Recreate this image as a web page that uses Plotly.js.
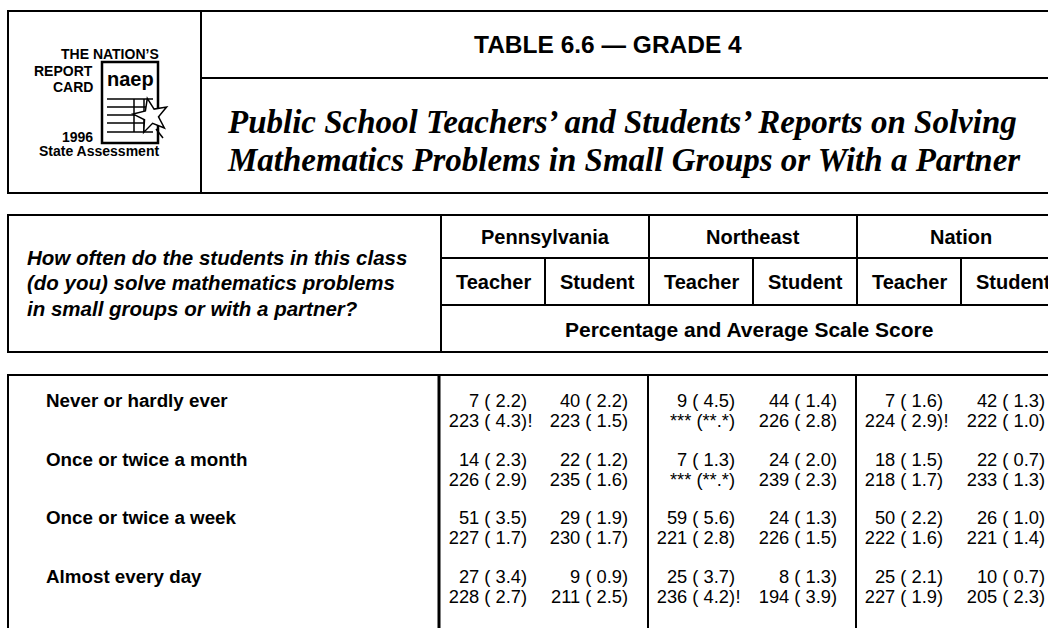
<!DOCTYPE html>
<html>
<head>
<meta charset="utf-8">
<script src="https://cdn.plot.ly/plotly-3.0.1.min.js"></script>
<style>html,body{margin:0;padding:0;background:#fff;}#chart{width:1048px;height:628px;}</style>
</head>
<body>
<div id="chart"></div>
<script>
// ---------------- DATA ----------------
const categories = ['Never or hardly ever', 'Once or twice a month', 'Once or twice a week', 'Almost every day'];
const regions = ['Pennsylvania', 'Northeast', 'Nation'];
const respondents = ['Teacher', 'Student'];
const question = ['How often do the students in this class', '(do you) solve mathematics problems', 'in small groups or with a partner?'];
const measureLabel = 'Percentage and Average Scale Score';
const tableTitle = 'TABLE 6.6 \u2014 GRADE 4';
const subtitleLines = ['Public School Teachers\u2019 and Students\u2019 Reports on Solving', 'Mathematics Problems in Small Groups or With a Partner'];

// percentage ( standard error ) per category
const paTeacherPct   = ['7 ( 2.2)', '14 ( 2.3)', '51 ( 3.5)', '27 ( 3.4)'];
const paStudentPct   = ['40 ( 2.2)', '22 ( 1.2)', '29 ( 1.9)', '9 ( 0.9)'];
const neTeacherPct   = ['9 ( 4.5)', '7 ( 1.3)', '59 ( 5.6)', '25 ( 3.7)'];
const neStudentPct   = ['44 ( 1.4)', '24 ( 2.0)', '24 ( 1.3)', '8 ( 1.3)'];
const natTeacherPct  = ['7 ( 1.6)', '18 ( 1.5)', '50 ( 2.2)', '25 ( 2.1)'];
const natStudentPct  = ['42 ( 1.3)', '22 ( 0.7)', '26 ( 1.0)', '10 ( 0.7)'];
// average scale score ( standard error ) per category
const paTeacherScore  = ['223 ( 4.3)!', '226 ( 2.9)', '227 ( 1.7)', '228 ( 2.7)'];
const paStudentScore  = ['223 ( 1.5)', '235 ( 1.6)', '230 ( 1.7)', '211 ( 2.5)'];
const neTeacherScore  = ['*** (**.*)', '*** (**.*)', '221 ( 2.8)', '236 ( 4.2)!'];
const neStudentScore  = ['226 ( 2.8)', '239 ( 2.3)', '226 ( 1.5)', '194 ( 3.9)'];
const natTeacherScore = ['224 ( 2.9)!', '218 ( 1.7)', '222 ( 1.6)', '227 ( 1.9)'];
const natStudentScore = ['222 ( 1.0)', '233 ( 1.3)', '221 ( 1.4)', '205 ( 2.3)'];

// ---------------- LAYOUT CONSTANTS ----------------
const SANS = 'Liberation Sans, Arial, Helvetica, sans-serif';
const SERIF = 'Liberation Serif, Times New Roman, serif';
const RIGHT = 1070;
const colRight = [527, 628, 735, 837, 943, 1045];
const rowY1 = [402, 461, 519, 578];
const rowGap = 20.5;

const pctCols = [paTeacherPct, paStudentPct, neTeacherPct, neStudentPct, natTeacherPct, natStudentPct];
const scoreCols = [paTeacherScore, paStudentScore, neTeacherScore, neStudentScore, natTeacherScore, natStudentScore];

const traces = [];
const valFont = {family: SANS, size: 18.3, color: '#000'};
pctCols.forEach((col, c) => {
  traces.push({type: 'scatter', mode: 'text', x: col.map(() => colRight[c]), y: rowY1,
    text: col, textposition: 'middle left', textfont: valFont, hoverinfo: 'skip', cliponaxis: false});
});
scoreCols.forEach((col, c) => {
  const base = col.map(s => s.replace(/!$/, ''));
  traces.push({type: 'scatter', mode: 'text', x: col.map(() => colRight[c]), y: rowY1.map(v => v + rowGap),
    text: base, textposition: 'middle left', textfont: valFont, hoverinfo: 'skip', cliponaxis: false});
  const fx = [], fy = [], ft = [];
  col.forEach((s, r) => { if (/!$/.test(s)) { fx.push(colRight[c] + 0.5); fy.push(rowY1[r] + rowGap); ft.push('!'); } });
  if (fx.length) traces.push({type: 'scatter', mode: 'text', x: fx, y: fy, text: ft,
    textposition: 'middle right', textfont: valFont, hoverinfo: 'skip', cliponaxis: false});
});
// row labels
traces.push({type: 'scatter', mode: 'text', x: categories.map(() => 46), y: rowY1,
  text: categories.map(s => '<b>' + s + '</b>'), textposition: 'middle right',
  textfont: {family: SANS, size: 18.8, color: '#000'}, hoverinfo: 'skip', cliponaxis: false});

// ---------------- SHAPES ----------------
const shapes = [];
function ln(x0, y0, x1, y1, w) {
  shapes.push({type: 'line', xref: 'x', yref: 'y', x0, y0, x1, y1, line: {color: '#000', width: w || 2}});
}
// top box
ln(7, 11, RIGHT, 11); ln(7, 193, RIGHT, 193); ln(8, 11, 8, 193); ln(201, 11, 201, 193); ln(201, 78, RIGHT, 78);
// header table
ln(7, 215, RIGHT, 215); ln(7, 352, RIGHT, 352); ln(8, 215, 8, 352); ln(441, 215, 441, 352);
ln(441, 258, RIGHT, 258); ln(441, 305, RIGHT, 305);
[649, 857].forEach(x => ln(x, 215, x, 305));
[545, 753, 961].forEach(x => ln(x, 258, x, 305));
// body
ln(7, 375, RIGHT, 375); ln(8, 375, 8, 640); ln(439, 375, 439, 640, 3); ln(648, 375, 648, 640); ln(856, 375, 856, 640);

// logo: report card
shapes.push({type: 'rect', xref: 'x', yref: 'y', x0: 102, y0: 62, x1: 158, y1: 143, line: {color: '#000', width: 2.5}, fillcolor: '#fff'});
[99, 107, 115, 123, 132].forEach(y => ln(107, y, 153, y, 1.5));
[134, 144].forEach(x => ln(x, 99, x, 132, 1.5));
// star
(function () {
  const cx = 151, cy = 116, R = 18, r = 7.5, rot = -12 * Math.PI / 180;
  let p = '';
  for (let i = 0; i < 10; i++) {
    const a = rot - Math.PI / 2 + i * Math.PI / 5;
    const rr = i % 2 === 0 ? R : r;
    p += (i === 0 ? 'M' : 'L') + (cx + rr * Math.cos(a)).toFixed(1) + ',' + (cy + rr * Math.sin(a)).toFixed(1);
  }
  p += 'Z';
  shapes.push({type: 'path', xref: 'x', yref: 'y', path: p, fillcolor: '#fff', line: {color: '#000', width: 1.5}});
})();
ln(156, 129, 163, 138, 1.5);

// ---------------- ANNOTATIONS ----------------
const ann = [];
function tx(x, y, text, size, opts) {
  ann.push(Object.assign({xref: 'x', yref: 'y', x, y, text, showarrow: false, xanchor: 'center', yanchor: 'middle',
    font: {family: SANS, size, color: '#000'}}, opts || {}));
}
// logo texts
tx(110, 54, '<b>THE NATION\u2019S</b>', 14);
tx(95, 71, '<b>REPORT</b>', 14, {xanchor: 'right'});
tx(95, 87, '<b>CARD</b>', 14, {xanchor: 'right'});
tx(95, 137, '<b>1996</b>', 14, {xanchor: 'right'});
tx(99, 151, '<b>State Assessment</b>', 14);
tx(130, 79, '<b>naep</b>', 20);
// titles
tx(608, 44, '<b>' + tableTitle + '</b>', 24.5);
subtitleLines.forEach((s, i) => tx(225, 122 + i * 38, '<b><i>' + s + '</i></b>', 33,
  {xanchor: 'left', font: {family: SERIF, size: 33, color: '#000'}}));
// question
question.forEach((s, i) => tx(25, 257 + i * 25.5, '<b><i>' + s + '</i></b>', 20.5, {xanchor: 'left'}));
// region & respondent headers
const regionCenters = [545, 753, 961];
regions.forEach((s, i) => tx(regionCenters[i], 237, '<b>' + s + '</b>', 20));
const subCenters = [493, 597, 701, 805, 909, 1013];
subCenters.forEach((x, i) => tx(x, 282, '<b>' + respondents[i % 2] + '</b>', 20));
tx(749, 329, '<b>' + measureLabel + '</b>', 21);

const layout = {
  width: 1048, height: 628, margin: {l: 0, r: 0, t: 0, b: 0},
  paper_bgcolor: '#fff', plot_bgcolor: '#fff', showlegend: false,
  xaxis: {range: [0, 1048], visible: false, fixedrange: true},
  yaxis: {range: [628, 0], visible: false, fixedrange: true},
  shapes, annotations: ann
};
Plotly.newPlot('chart', traces, layout, {displayModeBar: false, staticPlot: true});
</script>
</body>
</html>
